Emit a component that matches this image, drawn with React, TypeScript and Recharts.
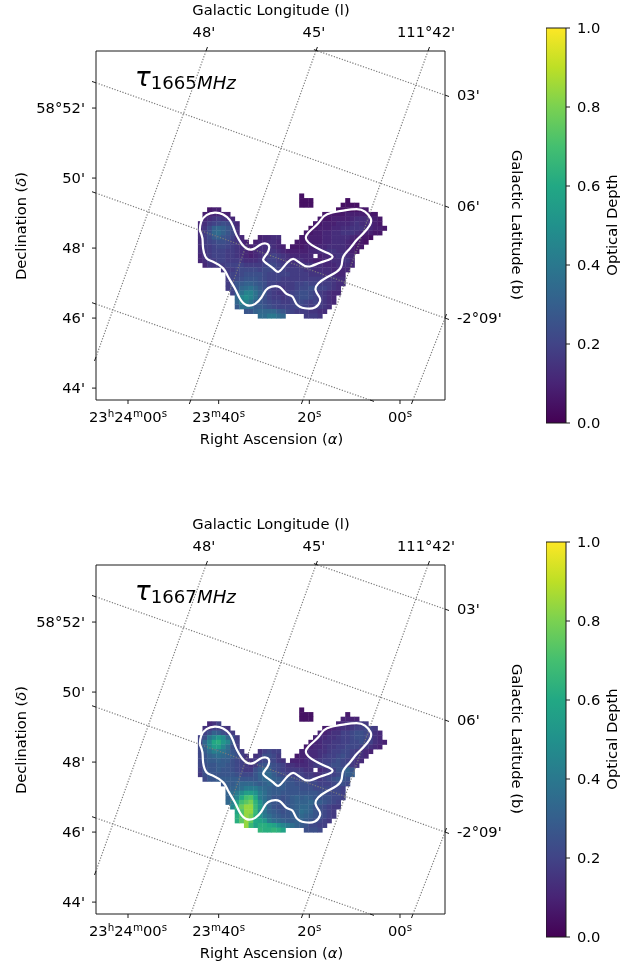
import React from "react";
import { ScatterChart, Scatter, XAxis, YAxis, ComposedChart, Area, ReferenceArea, Customized } from "recharts";

const FONT = "'DejaVu Sans', sans-serif";
const INK = "#1a1a1a";
const TXT = "#000000";
const FS = 14.7;

// Axis domains: right ascension in seconds after 23h23m00s, declination in arcminutes after 58 deg
const raDomain: [number, number] = [-9.93, 67.06];
const decDomain: [number, number] = [43.66, 53.63];
const raTicks = [60, 40, 20, 0];
const decTicks = [52, 50, 48, 46, 44];
const decLabels = ["58°52'", "50'", "48'", "46'", "44'"];
const lonLabels = ["48'", "45'", "111°42'"];
const latLabels = ["03'", "06'", "-2°09'"];
const cbarTicks = [0, 0.2, 0.4, 0.6, 0.8, 1.0];

// Map cells: row -> segments [first column, one character per cell, base-36 levels of optical depth]
const CELL_RA0 = 44.03;
const CELL_RA_STEP = 1.0157;
const CELL_DEC0 = 49.489;
const CELL_DEC_STEP = 0.132;
const TAU_STEP_1665 = 0.022;
const TAU_STEP_1667 = 0.024;

type Seg = [number, string];
const tau1665Rows: Seg[][] = [
  [[22, "2"]],
  [[22, "222"], [32, "2"]],
  [[22, "222"], [31, "2222"]],
  [[2, "344"], [30, "2222233"]],
  [[1, "445544"], [27, "333334444433"]],
  [[1, "5678765"], [26, "33344445666543"]],
  [[0, "5689aba75"], [25, "334445556766543"]],
  [[0, "67aefeca6"], [24, "23444556677765443"]],
  [[0, "68bfgeca6"], [23, "33445566777654433"]],
  [[0, "68adecb965"], [13, "45566"], [22, "3344455666654332"]],
  [[0, "689abba8754"], [12, "455665"], [21, "3334445566654332"]],
  [[0, "6889aa9876545667654"], [20, "3334445566665433"]],
  [[0, "67899988765456677654444455667766543"]],
  [[0, "5789998876545678987655555"], [26, "45567765"]],
  [[0, "5688998887666789987666655445566775"]],
  [[1, "57788999988889aa98877777665556665"]],
  [[5, "7889aaaa9aaa9988887766665555"]],
  [[6, "899abbbba9999988887776" + "6655"]],
  [[6, "89abcccba9998888888888" + "7766"]],
  [[6, "8acdeedcb99888899a9988" + "8766"]],
  [[6, "8acfghfdb9887889aabb99" + "876"]],
  [[7, "9ehkkhec987789abba987655"]],
  [[8, "fkmkhdb988789abba98765"]],
  [[8, "fkkhecba99889aa9898765"]],
  [[8, "dhhgddcba9999a9988876"]],
  [[10, "cceffffdca98887766"]],
  [[13, "ggiigf"], [23, "8887"]],
];
const tau1667Rows: Seg[][] = [
  [[22, "2"]],
  [[22, "222"], [32, "3"]],
  [[22, "222"], [31, "4444"]],
  [[2, "568"], [30, "4566777"]],
  [[1, "668876"], [27, "334566788987"]],
  [[1, "8adca87"], [26, "44566889aa9865"]],
  [[0, "8agjmkea7"], [25, "455667889aa9865"]],
  [[0, "9ejpqmjc8"], [24, "34566778899a98654"]],
  [[0, "9djnnjfa8"], [23, "34556778899987654"]],
  [[0, "9cfihgeba7"], [13, "68988"], [22, "4455667889987654"]],
  [[0, "9bdefedca86"], [12, "67aa97"], [21, "3445567889a98765"]],
  [[0, "9bccdcca98667899976"], [20, "4445667889a98765"]],
  [[0, "9abbccba98767abba98665556788" + "9aa9976"]],
  [[0, "8abbcbba9877aceda98777766"], [26, "5678abdb"]],
  [[0, "7abbbbbba999bdeeca9888877667889bcc"]],
  [[1, "9bbcccccbbbbdeedcbba99888789abba"]],
  [[5, "bccdeeedcdedccbbaaa998889aa9"]],
  [[6, "cdefhhhfedcccbbbaaa9999998"]],
  [[6, "dfhknnlhfdccbbbbbbbbaa9998"]],
  [[6, "dgjptuphfdbbabcdcdcbaaa998"]],
  [[6, "eiotvxrlgcbbabcdddedcba98"]],
  [[7, "jswz"+"zsmhdbaabcdeedba9877"]],
  [[8, "ouzzskgdcbabcdfedba987"]],
  [[8, "quzxrlhfdcbbcdedcba987"]],
  [[8, "qvzvpomhfedccddcba987"]],
  [[10, "zsoqqpoljhfdcb9988"]],
  [[13, "rqqrqo"], [23, "aaa9"]],
];

// Contour of the cloud as [RA seconds, Dec arcmin]
const contourRa = [44.16, 43.87, 42.69, 40.85, 39.01, 37.54, 36.8, 36.07, 34.96, 33.86, 32.39, 30.92, 29.59, 28.86, 29.3, 30.18, 29.44, 27.97, 26.87, 25.76, 24.66, 23.56, 22.45, 20.98, 19.51, 17.67, 15.83, 14.87, 15.83, 17.67, 19.51, 20.61, 20.61, 19.51, 18.04, 16.78, 15.09, 12.52, 9.57, 7.73, 6.48, 6.63, 8.1, 9.57, 11.05, 12.52, 12.88, 13.99, 16.2, 18.04, 18.62, 17.82, 17.67, 18.77, 20.98, 22.82, 23.7, 25.03, 26.5, 28.34, 29.59, 30.55, 32.02, 33.86, 35.33, 36.44, 37.91, 39.01, 41.22, 42.69, 43.43, 43.58, 44.16];
const contourDec = [48.51, 48.75, 48.94, 49.01, 48.96, 48.8, 48.61, 48.37, 48.13, 47.99, 47.97, 48.09, 48.13, 48.04, 47.85, 47.68, 47.56, 47.42, 47.32, 47.45, 47.61, 47.69, 47.61, 47.49, 47.49, 47.58, 47.66, 47.75, 47.85, 47.96, 48.09, 48.23, 48.37, 48.53, 48.71, 48.91, 49.01, 49.07, 49.11, 49.04, 48.85, 48.66, 48.42, 48.23, 47.99, 47.75, 47.51, 47.32, 47.16, 46.99, 46.8, 46.61, 46.47, 46.3, 46.28, 46.4, 46.61, 46.69, 46.88, 46.9, 46.8, 46.59, 46.4, 46.37, 46.56, 46.85, 47.18, 47.42, 47.61, 47.71, 47.99, 48.28, 48.51];

// Galactic grid lines, end points as [RA, Dec]
const gridLines: number[][][] = [
  [[42.8, 53.63], [67.06, 44.89]],
  [[18.55, 53.63], [46.15, 43.66]],
  [[-6.18, 53.63], [21.42, 43.66]],
  [[-9.93, 46.0], [-2.87, 43.66]],
  [[18.1, 53.63], [-9.93, 52.37]],
  [[67.06, 52.72], [-9.93, 49.2]],
  [[67.06, 49.57], [-9.93, 46.0]],
  [[67.06, 46.4], [6.62, 43.66]],
];
const lonUpEnds = [[42.8, 53.63], [18.55, 53.63], [-6.18, 53.63], [-9.93, 46.0]];
const lonDownEnds = [[46.15, 43.66], [21.42, 43.66], [-2.87, 43.66], [67.06, 44.89]];
const latRightEnds = [[-9.93, 52.37], [-9.93, 49.2], [-9.93, 46.0], [6.62, 43.66]];
const latLeftEnds = [[67.06, 52.72], [67.06, 49.57], [67.06, 46.4], [18.1, 53.63]];

const viridis = ["#440154", "#482475", "#414487", "#355f8d", "#2a788e", "#21918c", "#22a884", "#44bf70", "#7ad151", "#bddf26", "#fde725"];

function hexRgb(h: string) {
  return [1, 3, 5].map((i) => parseInt(h.slice(i, i + 2), 16));
}
function colorOf(v: number) {
  const t = Math.min(0.9999, Math.max(0, v)) * (viridis.length - 1);
  const k = Math.floor(t);
  const f = t - k;
  const a = hexRgb(viridis[k]);
  const b = hexRgb(viridis[k + 1]);
  return `rgb(${a.map((c, i) => Math.round(c + (b[i] - c) * f)).join(",")})`;
}
function cellsOf(rows: Seg[][], step: number) {
  const out: { x: number; y: number; tau: number }[] = [];
  rows.forEach((segs, i) =>
    segs.forEach(([start, s]) =>
      [...s].forEach((ch, k) =>
        out.push({
          x: CELL_RA0 - (start + k) * CELL_RA_STEP,
          y: CELL_DEC0 - i * CELL_DEC_STEP,
          tau: parseInt(ch, 36) * step,
        })
      )
    )
  );
  return out;
}
const toPts = (a: number[][], labels: string[] = []) => a.map(([x, y], i) => ({ x, y, label: labels[i] }));
const contourPts = contourRa.map((x, i) => ({ x, y: contourDec[i] }));

const CellShape = (p: any) => (
  <rect x={p.cx - 2.5} y={p.cy - 2.5} width={5} height={5} fill={colorOf(p.payload.tau)} />
);
const noShape = () => <g />;
const slant = (dx: number, dy: number, lx = 0, ly = 0, anchor = "middle") => (p: any) => (
  <g>
    <line x1={p.cx} y1={p.cy} x2={p.cx + dx} y2={p.cy + dy} stroke={INK} strokeWidth={1} />
    {p.payload.label ? (
      <text x={p.cx + lx} y={p.cy + ly} textAnchor={anchor as any} fontFamily={FONT} fontSize={FS} fill={TXT}>
        {p.payload.label}
      </text>
    ) : null}
  </g>
);

const RaTick = (p: any) => {
  const v = p.payload.value;
  const parts: [string, boolean][] =
    v === 60
      ? [["23", false], ["h", true], ["24", false], ["m", true], ["00", false], ["s", true]]
      : v === 40
      ? [["23", false], ["m", true], ["40", false], ["s", true]]
      : v === 20
      ? [["20", false], ["s", true]]
      : [["00", false], ["s", true]];
  return (
    <g>
      <line x1={p.x} x2={p.x} y1={400} y2={404} stroke={INK} strokeWidth={1} />
      <text x={p.x} y={422} textAnchor="middle" fontFamily={FONT} fontSize={FS} fill={TXT}>
        {parts.map(([t, sup], i) => (
          <tspan key={i} fontSize={sup ? 10.3 : FS} dy={sup ? -5 : i === 0 ? 0 : 5}>
            {t}
          </tspan>
        ))}
      </text>
    </g>
  );
};
const DecTick = (p: any) => (
  <g>
    <line x1={92} x2={96} y1={p.y} y2={p.y} stroke={INK} strokeWidth={1} />
    <text x={85} y={p.y + 5} textAnchor="end" fontFamily={FONT} fontSize={FS} fill={TXT}>
      {decLabels[decTicks.indexOf(p.payload.value)]}
    </text>
  </g>
);
const RaTopTick = (p: any) => <line x1={p.x} x2={p.x} y1={47} y2={51} stroke={INK} strokeWidth={1} />;
const DecRightTick = (p: any) => <line x1={445} x2={449} y1={p.y} y2={p.y} stroke={INK} strokeWidth={1} />;
const CbarTick = (p: any) => (
  <g>
    <line x1={20} x2={24} y1={p.y} y2={p.y} stroke={INK} strokeWidth={1} />
    <text x={31} y={p.y + 5} textAnchor="start" fontFamily={FONT} fontSize={FS} fill={TXT}>
      {Number(p.payload.value).toFixed(1)}
    </text>
  </g>
);

function Panel({ top, rows, sub, step }: { top: number; rows: Seg[][]; sub: string; step: number }) {
  const cells = cellsOf(rows, step);
  const Texts = () => (
    <g fontFamily={FONT} fontSize={FS} fill={TXT}>
      <text x={271} y={15} textAnchor="middle">Galactic Longitude (l)</text>
      <text x={271.5} y={444} textAnchor="middle">
        Right Ascension (<tspan fontStyle="italic">α</tspan>)
      </text>
      <text transform="translate(26,226) rotate(-90)" textAnchor="middle">
        Declination (<tspan fontStyle="italic">δ</tspan>)
      </text>
      <text transform="translate(512,225) rotate(90)" textAnchor="middle">Galactic Latitude (b)</text>
      <text x={135} y={86} fontSize={26} fontStyle="italic">
        τ
        <tspan fontSize={18.2} dy={3} fontStyle="normal">{sub}</tspan>
        <tspan fontSize={18.2} fontStyle="italic">MHz</tspan>
      </text>
    </g>
  );
  return (
    <>
      <div style={{ position: "absolute", left: 0, top, width: 540, height: 460 }}>
        <ScatterChart width={540} height={460} margin={{ top: 50, left: 95, right: 94, bottom: 59 }}>
          <XAxis xAxisId="ra" type="number" dataKey="x" orientation="bottom" height={1} reversed domain={raDomain} ticks={raTicks} interval={0} tickLine={false} tick={RaTick} stroke={INK} />
          <XAxis xAxisId="raTop" type="number" dataKey="x" orientation="top" height={1} reversed domain={raDomain} ticks={raTicks} interval={0} tickLine={false} tick={RaTopTick} stroke={INK} />
          <YAxis yAxisId="dec" type="number" dataKey="y" orientation="left" width={1} domain={decDomain} ticks={decTicks} interval={0} tickLine={false} tick={DecTick} stroke={INK} />
          <YAxis yAxisId="decRight" type="number" dataKey="y" orientation="right" width={1} domain={decDomain} ticks={decTicks} interval={0} tickLine={false} tick={DecRightTick} stroke={INK} />
          <Scatter xAxisId="ra" yAxisId="dec" data={cells} shape={CellShape} isAnimationActive={false} />
          {gridLines.map((l, i) => (
            <Scatter key={i} xAxisId="ra" yAxisId="dec" data={toPts(l)} line={{ stroke: "#7a7a7a", strokeWidth: 1.2, strokeDasharray: "1.2 1.6" }} shape={noShape} isAnimationActive={false} />
          ))}
          <Scatter xAxisId="ra" yAxisId="dec" data={contourPts} line={{ stroke: "#ffffff", strokeWidth: 2.2, fill: "none" }} lineJointType="natural" shape={noShape} isAnimationActive={false} />
          <Scatter xAxisId="ra" yAxisId="dec" data={toPts(lonUpEnds, lonLabels)} shape={slant(1.5, -4, -2, -14)} isAnimationActive={false} />
          <Scatter xAxisId="ra" yAxisId="dec" data={toPts(lonDownEnds)} shape={slant(-1.5, 4)} isAnimationActive={false} />
          <Scatter xAxisId="ra" yAxisId="dec" data={toPts(latRightEnds, latLabels)} shape={slant(4, 1.4, 12, 5, "start")} isAnimationActive={false} />
          <Scatter xAxisId="ra" yAxisId="dec" data={toPts(latLeftEnds)} shape={slant(-4, -1.4)} isAnimationActive={false} />
          <Customized component={Texts} />
        </ScatterChart>
      </div>
      <div style={{ position: "absolute", left: 546, top, width: 91, height: 460 }}>
        <ComposedChart width={91} height={460} data={[{ x: 0, level: 1 }, { x: 1, level: 1 }]} margin={{ top: 28, left: 0, right: 70, bottom: 37 }}>
          <defs>
            <linearGradient id={`vir${sub}`} x1="0" y1="1" x2="0" y2="0">
              {viridis.map((c, i) => (
                <stop key={i} offset={i / (viridis.length - 1)} stopColor={c} />
              ))}
            </linearGradient>
          </defs>
          <XAxis type="number" dataKey="x" domain={[0, 1]} height={0} hide />
          <YAxis type="number" orientation="right" width={1} domain={[0, 1]} ticks={cbarTicks} interval={0} tickLine={false} tick={CbarTick} axisLine={false} stroke={INK} />
          <Area dataKey="level" type="linear" baseValue={0} stroke="none" fill={`url(#vir${sub})`} fillOpacity={1} isAnimationActive={false} dot={false} activeDot={false} />
          <ReferenceArea x1={0} x2={1} y1={0} y2={1} fill="none" stroke={INK} strokeWidth={1} fillOpacity={0} ifOverflow="visible" />
          <Customized
            component={() => (
              <text transform="translate(71,225) rotate(-90)" textAnchor="middle" fontFamily={FONT} fontSize={FS} fill={TXT}>
                Optical Depth
              </text>
            )}
          />
        </ComposedChart>
      </div>
    </>
  );
}

export default function App() {
  return (
    <div style={{ position: "absolute", left: 0, top: 0, width: 637, height: 966, background: "#fff", overflow: "hidden", filter: "blur(0.3px)" }}>
      <Panel top={0} rows={tau1665Rows} sub="1665" step={TAU_STEP_1665} />
      <Panel top={514} rows={tau1667Rows} sub="1667" step={TAU_STEP_1667} />
    </div>
  );
}
